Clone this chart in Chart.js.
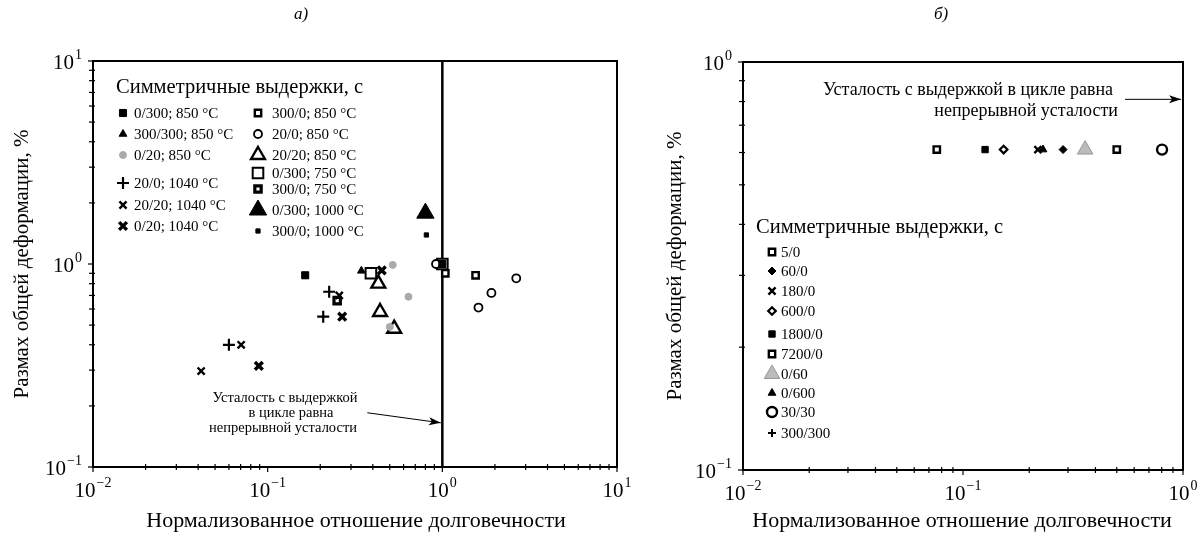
<!DOCTYPE html>
<html><head><meta charset="utf-8">
<script src="https://cdn.jsdelivr.net/npm/chart.js@4/dist/chart.umd.min.js"></script>
<style>
html,body{margin:0;padding:0;background:#fff;width:1203px;height:536px;overflow:hidden}
canvas{position:absolute;top:0}
#a{left:0}
#b{left:640px}
</style></head><body>
<canvas id="a" width="640" height="536" style="width:640px;height:536px"></canvas>
<canvas id="b" width="563" height="536" style="width:563px;height:536px"></canvas>
<script>
// ---------- DATA (panel a) ----------
const a_0_300_850   = [{x:0.164,y:0.88},{x:1.0,y:1.0}];
const a_300_300_850 = [{x:0.344,y:0.925}];
const a_0_20_850    = [{x:0.52,y:0.99},{x:0.64,y:0.69},{x:0.50,y:0.49}];
const a_20_0_1040   = [{x:0.225,y:0.73},{x:0.208,y:0.55},{x:0.060,y:0.40}];
const a_20_20_1040  = [{x:0.257,y:0.70},{x:0.0705,y:0.40},{x:0.0416,y:0.297}];
const a_0_20_1040   = [{x:0.45,y:0.93},{x:0.267,y:0.55},{x:0.089,y:0.315}];
const a_300_0_850   = [{x:1.55,y:0.88},{x:1.04,y:0.90}];
const a_20_0_850    = [{x:2.65,y:0.85},{x:1.91,y:0.72},{x:1.61,y:0.61},{x:0.92,y:1.0}];
const a_20_20_850   = [{x:0.43,y:0.80},{x:0.44,y:0.58},{x:0.53,y:0.48}];
const a_0_300_750   = [{x:0.39,y:0.90},{x:1.0,y:1.0}];
const a_300_0_750   = [{x:0.25,y:0.66}];
const a_0_300_1000  = [{x:0.80,y:1.78}];
const a_300_0_1000  = [{x:0.81,y:1.39}];
const a_equalLine   = [{x:1,y:0.1},{x:1,y:10}];
const a_labels = ["0/300; 850 °C","300/300; 850 °C","0/20; 850 °C","20/0; 1040 °C","20/20; 1040 °C","0/20; 1040 °C",
                  "300/0; 850 °C","20/0; 850 °C","20/20; 850 °C","0/300; 750 °C","300/0; 750 °C","0/300; 1000 °C","300/0; 1000 °C"];
const a_xTicks = [-2,-1,0,1];   // exponents of 10
const a_yTicks = [-1,0,1];

// ---------- DATA (panel b) ----------
const bY = 0.61;
const b_5_0    = [{x:0.076,y:bY}];
const b_60_0   = [{x:0.285,y:bY}];
const b_180_0  = [{x:0.219,y:bY}];
const b_600_0  = [{x:0.153,y:bY}];
const b_1800_0 = [{x:0.126,y:bY}];
const b_7200_0 = [{x:0.50,y:bY}];
const b_0_60   = [{x:0.359,y:bY}];
const b_0_600  = [{x:0.231,y:bY}];
const b_30_30  = [{x:0.803,y:bY}];
const b_300_300= [];
const b_labels = ["5/0","60/0","180/0","600/0","1800/0","7200/0","0/60","0/600","30/30","300/300"];
const b_xTicks = [-2,-1,0];
const b_yTicks = [-1,0];

const SERIF = '"Liberation Serif","Times New Roman",serif';

// marker styles
const M = {
  fsq:   {pointStyle:'rect',radius:5,backgroundColor:'#000',borderColor:'#000',borderWidth:1},
  ftriS: {pointStyle:'triangle',radius:4.5,backgroundColor:'#000',borderColor:'#000',borderWidth:1},
  gray:  {pointStyle:'circle',radius:3.5,backgroundColor:'#aaa',borderColor:'#aaa',borderWidth:1},
  plus:  {pointStyle:'cross',radius:6,backgroundColor:'#000',borderColor:'#000',borderWidth:2.2},
  xmark: {pointStyle:'crossRot',radius:5,backgroundColor:'#000',borderColor:'#000',borderWidth:2.4},
  bow:   {pointStyle:'crossRot',radius:5.5,backgroundColor:'#000',borderColor:'#000',borderWidth:3.4},
  dsq:   {pointStyle:'rect',radius:4.5,backgroundColor:'#fff',borderColor:'#000',borderWidth:2.4},
  ocirc: {pointStyle:'circle',radius:4,backgroundColor:'#fff',borderColor:'#000',borderWidth:1.8},
  otri:  {pointStyle:'triangle',radius:8,backgroundColor:'#fff',borderColor:'#000',borderWidth:2.4},
  bsq:   {pointStyle:'rect',radius:7.5,backgroundColor:'#fff',borderColor:'#000',borderWidth:2},
  dsq2:  {pointStyle:'rect',radius:4.5,backgroundColor:'#fff',borderColor:'#000',borderWidth:3.2},
  btri:  {pointStyle:'triangle',radius:10,backgroundColor:'#000',borderColor:'#000',borderWidth:1},
  ssq:   {pointStyle:'rect',radius:3,backgroundColor:'#000',borderColor:'#000',borderWidth:1},
  fdia:  {pointStyle:'rectRot',radius:4,backgroundColor:'#000',borderColor:'#000',borderWidth:1},
  odia:  {pointStyle:'rectRot',radius:3.8,backgroundColor:'#fff',borderColor:'#000',borderWidth:2.2},
  fsqB:  {pointStyle:'rect',radius:4.5,backgroundColor:'#000',borderColor:'#000',borderWidth:1},
  gtri:  {pointStyle:'triangle',radius:9,backgroundColor:'#bbb',borderColor:'#999',borderWidth:1},
  ocircB:{pointStyle:'circle',radius:5,backgroundColor:'#fff',borderColor:'#000',borderWidth:2.4},
  plusS: {pointStyle:'cross',radius:4,backgroundColor:'#000',borderColor:'#000',borderWidth:2}
};

function ds(label, data, m){
  return {label, data, pointStyle:m.pointStyle, pointRadius:m.radius, pointHoverRadius:m.radius,
    pointBackgroundColor:m.backgroundColor, pointBorderColor:m.borderColor, pointBorderWidth:m.borderWidth,
    showLine:false, _m:m};
}

function drawSup(ctx, base, exp, x, y, align){
  const bf = '21px '+SERIF, ef = '14px '+SERIF;
  ctx.font = bf; const wb = ctx.measureText(base).width;
  ctx.font = ef; const we = ctx.measureText(exp).width;
  const tot = wb + we + 1;
  let x0 = align==='center' ? x - tot/2 : (align==='right' ? x - tot : x);
  ctx.textAlign='left'; ctx.textBaseline='middle';
  ctx.font = bf; ctx.fillText(base, x0, y);
  ctx.font = ef; ctx.fillText(exp, x0 + wb + 1, y - 8);
}
function expStr(e){ return (e<0?'\u2212':'') + Math.abs(e); }

function makePlugin(cfg){
  return {
    id:'deco'+cfg.id,
    afterDraw(chart){
      const ctx = chart.ctx, a = chart.chartArea, xs = chart.scales.x, ys = chart.scales.y;
      ctx.save();
      ctx.fillStyle='#000'; ctx.strokeStyle='#000';
      // frame
      ctx.lineWidth = 2;
      ctx.strokeRect(a.left, a.top, a.right-a.left, a.bottom-a.top);
      // ticks
      ctx.lineWidth = 1.2;
      const xe = cfg.xTicks, ye = cfg.yTicks;
      for(let i=0;i<xe.length;i++){
        const px = xs.getPixelForValue(Math.pow(10,xe[i]));
        ctx.beginPath(); ctx.moveTo(px,a.bottom); ctx.lineTo(px,a.bottom+5); ctx.stroke();
        if(i<xe.length-1){
          for(let k=2;k<10;k++){
            const q = xs.getPixelForValue(k*Math.pow(10,xe[i]));
            ctx.beginPath(); ctx.moveTo(q,a.bottom-3); ctx.lineTo(q,a.bottom+3); ctx.stroke();
          }
        }
        drawSup(ctx,'10',expStr(xe[i]),px,a.bottom+24,'center');
      }
      for(let i=0;i<ye.length;i++){
        const py = ys.getPixelForValue(Math.pow(10,ye[i]));
        ctx.beginPath(); ctx.moveTo(a.left-5,py); ctx.lineTo(a.left,py); ctx.stroke();
        if(i<ye.length-1){
          for(let k=2;k<10;k++){
            const q = ys.getPixelForValue(k*Math.pow(10,ye[i]));
            ctx.beginPath(); ctx.moveTo(a.left-4,q); ctx.lineTo(a.left+2,q); ctx.stroke();
          }
        }
        drawSup(ctx,'10',expStr(ye[i]),a.left-11,py+2,'right');
      }
      // axis titles
      ctx.textAlign='center'; ctx.textBaseline='middle';
      ctx.font = '22px '+SERIF;
      ctx.fillText('Нормализованное отношение долговечности', cfg.xTitleX, 521);
      ctx.font = '21px '+SERIF;
      ctx.save(); ctx.translate(cfg.yTitleX, (a.top+a.bottom)/2); ctx.rotate(-Math.PI/2);
      ctx.fillText('Размах общей деформации, %', 0, 0); ctx.restore();
      // panel label
      ctx.font = 'italic 17px '+SERIF;
      ctx.fillText(cfg.panel, cfg.panelX, 15);
      // legend
      ctx.font = '20.5px '+SERIF; ctx.textAlign='left';
      ctx.fillText('Симметричные выдержки, с', cfg.legTitle[0], cfg.legTitle[1]);
      ctx.font = '15px '+SERIF;
      chart.data.datasets.forEach((d,i)=>{
        if(!d._m) return;
        const pos = cfg.legPos[i]; if(!pos) return;
        const m = d._m;
        ctx.fillStyle = m.backgroundColor; ctx.strokeStyle = m.borderColor; ctx.lineWidth = m.borderWidth;
        Chart.helpers.drawPoint(ctx, {pointStyle:m.pointStyle, radius:m.radius, rotation:0, borderWidth:m.borderWidth}, pos[0], pos[1]);
        ctx.fillStyle='#000';
        ctx.fillText(d.label, pos[2], pos[1]+1);
      });
      // annotation
      ctx.fillStyle='#000'; ctx.strokeStyle='#000';
      ctx.font = cfg.annFont+'px '+SERIF; ctx.textAlign = cfg.annAlign;
      cfg.annLines.forEach(l=>ctx.fillText(l[0], l[1], l[2]));
      const s = [xs.getPixelForValue(cfg.arrow[0]), ys.getPixelForValue(cfg.arrow[1])];
      const t = [xs.getPixelForValue(cfg.arrow[2]), ys.getPixelForValue(cfg.arrow[3])];
      ctx.lineWidth = 1;
      ctx.beginPath(); ctx.moveTo(s[0],s[1]); ctx.lineTo(t[0],t[1]); ctx.stroke();
      const ang = Math.atan2(t[1]-s[1], t[0]-s[0]);
      ctx.beginPath(); ctx.moveTo(t[0],t[1]);
      ctx.lineTo(t[0]-12*Math.cos(ang)+4*Math.sin(ang), t[1]-12*Math.sin(ang)-4*Math.cos(ang));
      ctx.lineTo(t[0]-9*Math.cos(ang), t[1]-9*Math.sin(ang));
      ctx.lineTo(t[0]-12*Math.cos(ang)-4*Math.sin(ang), t[1]-12*Math.sin(ang)+4*Math.cos(ang));
      ctx.closePath(); ctx.fill();
      ctx.restore();
    }
  };
}

const common = (xmin,xmax,ymin,ymax,pad)=>({
  responsive:false, animation:false, events:[], devicePixelRatio:1,
  layout:{padding:pad},
  plugins:{legend:{display:false}, tooltip:{enabled:false}},
  scales:{
    x:{type:'logarithmic',min:xmin,max:xmax,display:false},
    y:{type:'logarithmic',min:ymin,max:ymax,display:false}
  }
});

// ---------- chart a ----------
const aSets = [
  ds(a_labels[0], a_0_300_850, M.fsq),
  ds(a_labels[1], a_300_300_850, M.ftriS),
  ds(a_labels[2], a_0_20_850, M.gray),
  ds(a_labels[3], a_20_0_1040, M.plus),
  ds(a_labels[4], a_20_20_1040, M.xmark),
  ds(a_labels[5], a_0_20_1040, M.bow),
  ds(a_labels[6], a_300_0_850, M.dsq),
  ds(a_labels[7], a_20_0_850, M.ocirc),
  ds(a_labels[8], a_20_20_850, M.otri),
  ds(a_labels[9], a_0_300_750, M.bsq),
  ds(a_labels[10], a_300_0_750, M.dsq2),
  ds(a_labels[11], a_0_300_1000, M.btri),
  ds(a_labels[12], a_300_0_1000, M.ssq),
  {label:'line', data:a_equalLine, showLine:true, borderColor:'#000', borderWidth:2.5, pointRadius:0}
];
new Chart(document.getElementById('a'), {
  type:'scatter',
  data:{datasets:aSets},
  options:common(0.01,10,0.1,10,{left:93,top:61,right:23,bottom:69}),
  plugins:[makePlugin({
    id:'a', xTicks:a_xTicks, yTicks:a_yTicks, xTitleX:356, yTitleX:22, panel:'а)', panelX:301,
    legTitle:[116,88],
    legPos:[[123,113,134],[123,134,134],[123,155,134],[123,183,134],[123,205,134],[123,226,134],
            [258,113,272],[258,134,272],[258,155,272],[258,173,272],[258,189,272],[258,210,272],[258,231,272]],
    annFont:14.5, annAlign:'center',
    annLines:[['Усталость с выдержкой',285,398],['в цикле равна',291,413],['непрерывной усталости',283,428]],
    arrow:[0.372,0.185,0.98,0.165]
  })]
});

// ---------- chart b ----------
const bSets = [
  ds(b_labels[0], b_5_0, M.dsq),
  ds(b_labels[1], b_60_0, M.fdia),
  ds(b_labels[2], b_180_0, M.xmark),
  ds(b_labels[3], b_600_0, M.odia),
  ds(b_labels[4], b_1800_0, M.fsqB),
  ds(b_labels[5], b_7200_0, M.dsq),
  ds(b_labels[6], b_0_60, M.gtri),
  ds(b_labels[7], b_0_600, M.ftriS),
  ds(b_labels[8], b_30_30, M.ocircB),
  ds(b_labels[9], b_300_300, M.plusS)
];
const bx = 132, bt = 141;
new Chart(document.getElementById('b'), {
  type:'scatter',
  data:{datasets:bSets},
  options:common(0.01,1,0.1,1,{left:103,top:62,right:20,bottom:66}),
  plugins:[makePlugin({
    id:'b', xTicks:b_xTicks, yTicks:b_yTicks, xTitleX:322, yTitleX:35, panel:'б)', panelX:301,
    legTitle:[116,228],
    legPos:[[bx,252,bt],[bx,271,bt],[bx,291,bt],[bx,311,bt],[bx,334,bt],[bx,354,bt],[bx,374,bt],[bx,393,bt],[bx,412,bt],[bx,433,bt]],
    annFont:18, annAlign:'right',
    annLines:[['Усталость с выдержкой в цикле равна',473,90],['непрерывной усталости',478,111]],
    arrow:[0.545,0.81,0.98,0.81]
  })]
});
</script>
</body></html>
